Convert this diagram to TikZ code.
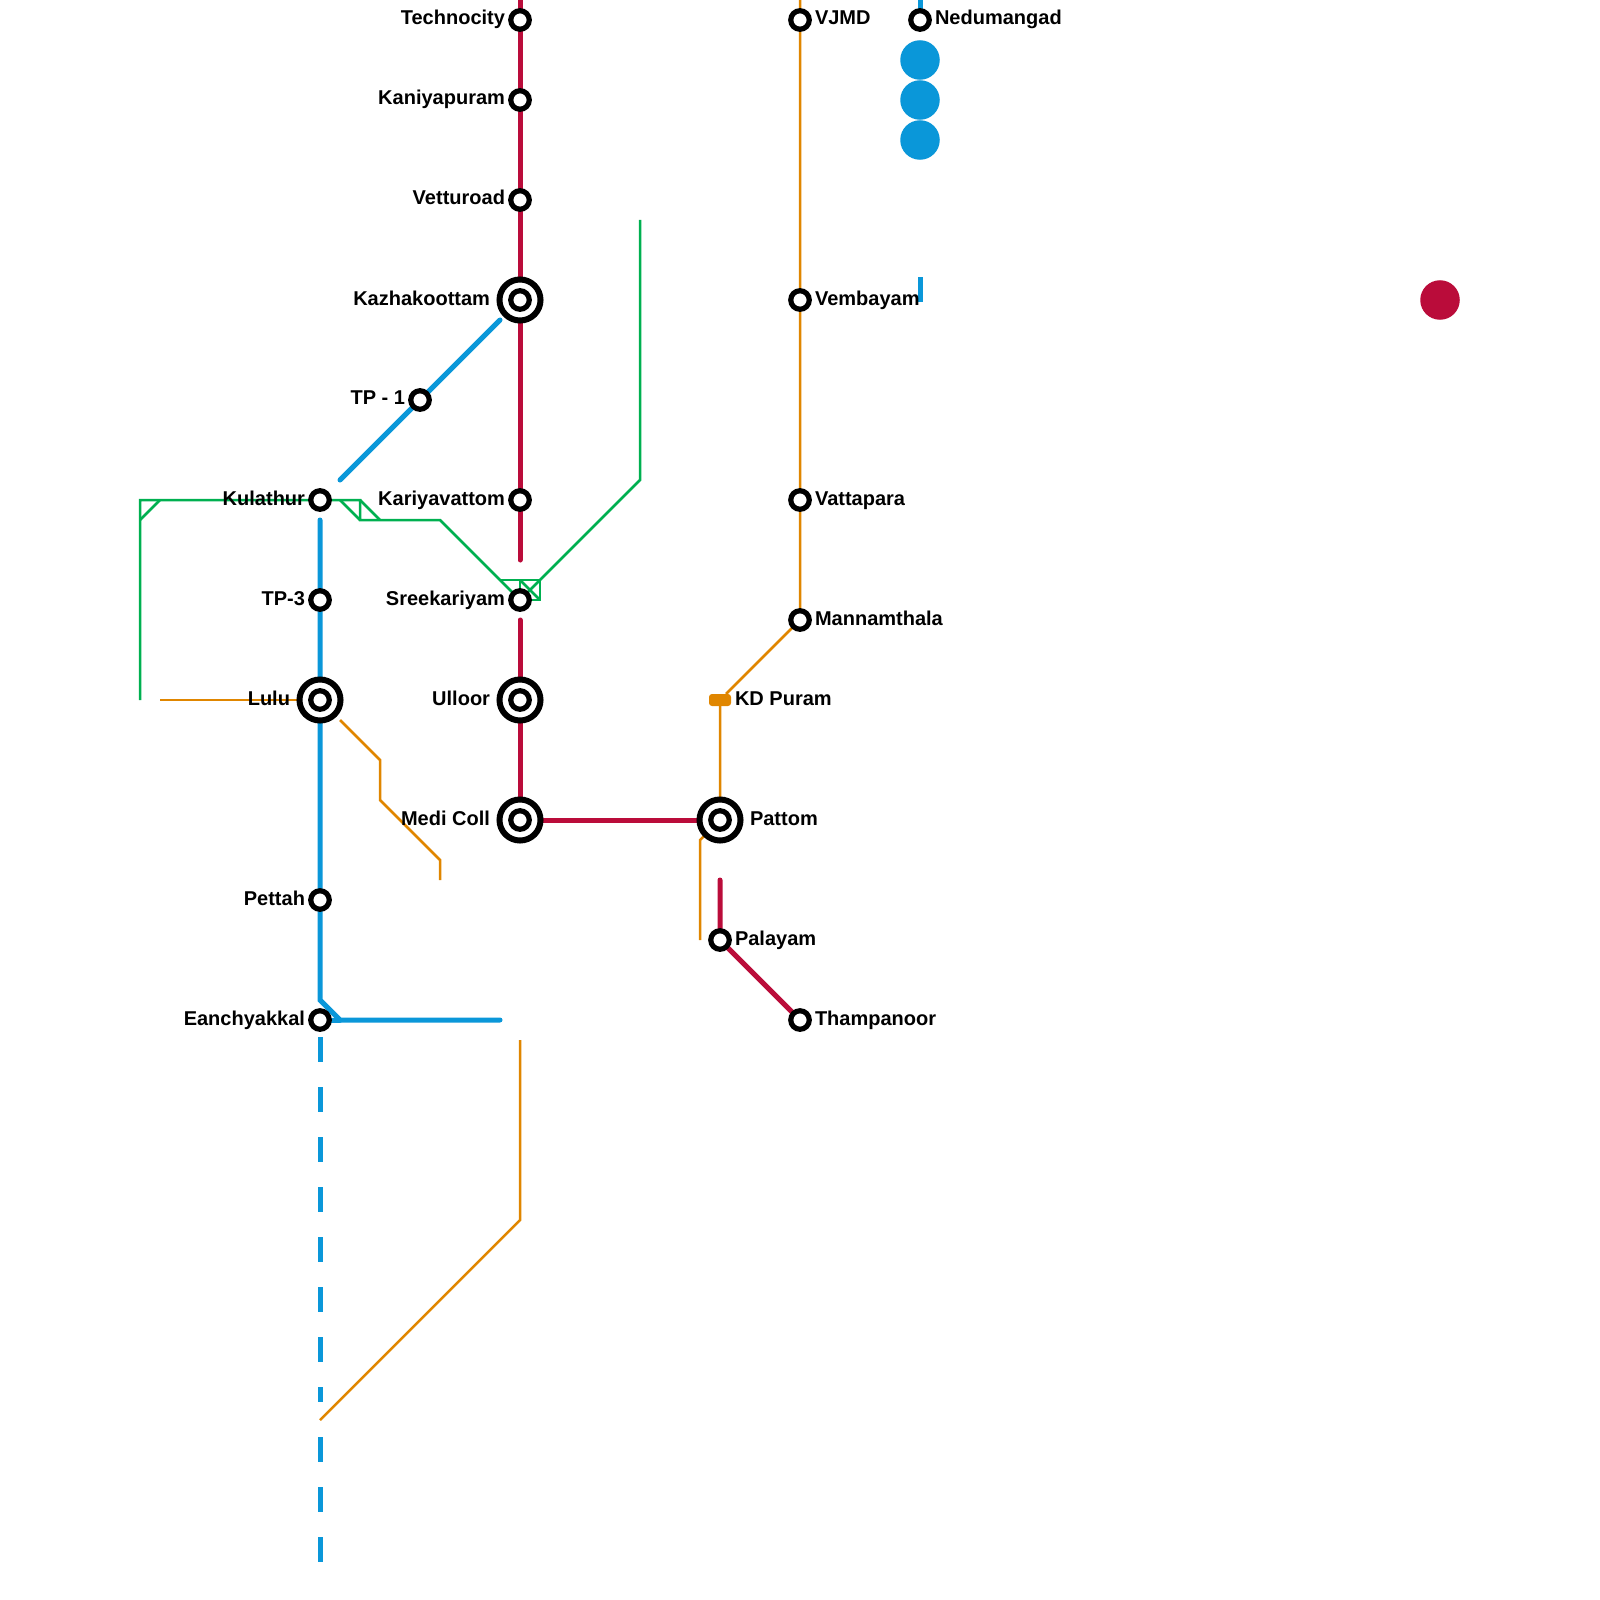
\documentclass[tikz,border=0pt]{standalone}
\usepackage{fontspec}
\setmainfont{Liberation Sans}
\usepackage{xcolor}
\usetikzlibrary{backgrounds}
\definecolor{linered}{HTML}{BA0C3A}
\definecolor{lineblue}{HTML}{0A97D9}
\definecolor{lineorange}{HTML}{E08600}
\definecolor{linegreen}{HTML}{00B050}
\begin{document}
\begin{tikzpicture}[
  x=0.01cm, y=-0.01cm,
  every node/.style={inner sep=0pt, outer sep=0pt},
  stn/.style={circle, draw=black, fill=white, line width=0.052cm, minimum size=0.185cm},
  hub/.style={circle, draw=black, fill=white, line width=0.06cm, minimum size=0.41cm},
  lbl/.style={font=\fontsize{5.69pt}{6pt}\selectfont\bfseries, text=black},
  lbll/.style={lbl, anchor=base east},
  lblr/.style={lbl, anchor=base west},
  blob/.style={circle, minimum size=0.395cm},
  redln/.style={draw=linered, line width=0.05cm, line cap=round},
  blueln/.style={draw=lineblue, line width=0.05cm, line cap=round},
  dashln/.style={draw=lineblue, line width=0.05cm, dash pattern=on 0.25cm off 0.25cm},
  orangeln/.style={draw=lineorange, line width=0.025cm},
  greenln/.style={draw=linegreen, line width=0.025cm}
]
  \useasboundingbox (0,0) rectangle (1600,1600);

  \node[stn] (technocity) at (520,20)  {};
  \node[stn] (kaniyapuram) at (520,100) {};
  \node[stn] (vetturoad) at (520,200) {};
  \node[hub] (kazhakoottam) at (520,300) {};
  \node[stn] (kazhakoottamin) at (520,300) {};
  \node[stn] (kariyavattom) at (520,500) {};
  \node[stn] (sreekariyam) at (520,600) {};
  \node[hub] (ulloor) at (520,700) {};
  \node[stn] (ulloorin) at (520,700) {};
  \node[hub] (medicoll) at (520,820) {};
  \node[stn] (medicollin) at (520,820) {};
  \node[hub] (pattom) at (720,820) {};
  \node[stn] (pattomin) at (720,820) {};
  \node[stn] (palayam) at (720,940) {};
  \node[stn] (thampanoor) at (800,1020) {};
  \node[stn] (tpone) at (420,400) {};
  \node[stn] (kulathur) at (320,500) {};
  \node[stn] (tpthree) at (320,600) {};
  \node[hub] (lulu) at (320,700) {};
  \node[stn] (luluin) at (320,700) {};
  \node[stn] (pettah) at (320,900) {};
  \node[stn] (eanchyakkal) at (320,1020) {};
  \node[stn] (vjmd) at (800,20) {};
  \node[stn] (vembayam) at (800,300) {};
  \node[stn] (vattapara) at (800,500) {};
  \node[stn] (mannamthala) at (800,620) {};
  \node[stn] (nedumangad) at (920,20) {};
  \node[draw=none, fill=lineorange, rounded corners=0.03cm, minimum width=0.22cm, minimum height=0.12cm] (kdpuram) at (720,700) {};

  \node[lbll] (ltechnocity) at (505,25) {Technocity};
  \node[lbll] (lkaniyapuram) at (505,105) {Kaniyapuram};
  \node[lbll] (lvetturoad) at (505,205) {Vetturoad};
  \node[lbll] (lkazhakoottam) at (490,305) {Kazhakoottam};
  \node[lbll] (lkariyavattom) at (505,505) {Kariyavattom};
  \node[lbll] (lsreekariyam) at (505,605) {Sreekariyam};
  \node[lbll] (lulloor) at (490,705) {Ulloor};
  \node[lbll] (lmedicoll) at (490,825) {Medi Coll};
  \node[lbll] (ltpone) at (405,404) {TP - 1};
  \node[lbll] (lkulathur) at (305,505) {Kulathur};
  \node[lbll] (ltpthree) at (305,605) {TP-3};
  \node[lbll] (llulu) at (290,705) {Lulu};
  \node[lbll] (lpettah) at (305,905) {Pettah};
  \node[lbll] (leanchyakkal) at (305,1025) {Eanchyakkal};
  \node[lblr] (lvjmd) at (815,25) {VJMD};
  \node[lblr] (lnedumangad) at (935,25) {Nedumangad};
  \node[lblr] (lvembayam) at (815,305) {Vembayam};
  \node[lblr] (lvattapara) at (815,505) {Vattapara};
  \node[lblr] (lmannamthala) at (815,625) {Mannamthala};
  \node[lblr] (lkdpuram) at (735,705) {KD Puram};
  \node[lblr] (lpattom) at (750,825) {Pattom};
  \node[lblr] (lpalayam) at (735,945) {Palayam};
  \node[lblr] (lthampanoor) at (815,1025) {Thampanoor};

  \node[blob, fill=lineblue] (blobone) at (920,60) {};
  \node[blob, fill=lineblue] (blobtwo) at (920,100) {};
  \node[blob, fill=lineblue] (blobthree) at (920,140) {};
  \node[blob, fill=linered] (blobred) at (1440,300) {};

  \coordinate (redtop) at (520,0);
  \coordinate (redgapa) at (520,560);
  \coordinate (redgapb) at (520,620);
  \coordinate (redpal) at (720,880);
  \coordinate (bluea) at (500,320);
  \coordinate (blueb) at (340,480);
  \coordinate (bluec) at (320,520);
  \coordinate (blued) at (500,1020);
  \coordinate (bluetop) at (920,0);
  \coordinate (bluestuba) at (920,277);
  \coordinate (bluestubb) at (920,302);
  \coordinate (dasha) at (320,1037);
  \coordinate (dashb) at (320,1402);
  \coordinate (dashc) at (320,1437);
  \coordinate (dashd) at (320,1562);
  \coordinate (orangetop) at (800,0);
  \coordinate (orangea) at (160,700);
  \coordinate (orangeb) at (440,880);
  \coordinate (orangec) at (520,1040);
  \coordinate (oranged) at (320,1420);
  \coordinate (orangee) at (700,940);
  \coordinate (orangef) at (340,720);
  \coordinate (greena) at (140,700);
  \coordinate (greenb) at (640,220);

  \begin{scope}[on background layer]
    \draw[redln] (redtop) -- (technocity) -- (kaniyapuram) -- (vetturoad) -- (kazhakoottam) -- (kariyavattom) -- (redgapa);
    \draw[redln] (redgapb) -- (ulloor) -- (medicoll) -- (pattom);
    \draw[redln] (redpal) -- (palayam) -- (thampanoor);

    \draw[blueln] (bluea) -- (tpone) -- (blueb);
    \draw[blueln] (bluec) -- (tpthree) -- (lulu) -- (pettah) -- (320,1000) -- (340,1020) -- (blued);
    \draw[blueln] (eanchyakkal) -- (340,1020);
    \draw[draw=lineblue, line width=0.05cm] (bluetop) -- (nedumangad);
    \draw[draw=lineblue, line width=0.05cm] (bluestuba) -- (bluestubb);
    \draw[dashln] (dasha) -- (dashb);
    \draw[dashln] (dashc) -- (dashd);

    \draw[orangeln] (orangetop) -- (vjmd) -- (vembayam) -- (vattapara) -- (mannamthala) -- (kdpuram) -- (pattom);
    \draw[orangeln] (orangea) -- (lulu);
    \draw[orangeln] (orangef) -- (380,760) -- (380,800) -- (440,860) -- (orangeb);
    \draw[orangeln] (orangec) -- (520,1220) -- (oranged);
    \draw[orangeln] (orangee) -- (700,840) -- (pattom);

    \draw[greenln] (greena) -- (140,500) -- (kulathur) -- (360,500) -- (360,520) -- (440,520) -- (sreekariyam);
    \draw[greenln] (140,520) -- (160,500);
    \draw[greenln] (340,500) -- (360,520);
    \draw[greenln] (360,500) -- (380,520);
    \draw[greenln] (500,580) -- (540,580) -- (540,600) -- (sreekariyam);
    \draw[greenln] (520,580) -- (sreekariyam);
    \draw[greenln] (520,580) -- (540,600);
    \draw[greenln] (sreekariyam) -- (540,580) -- (640,480) -- (greenb);
  \end{scope}
\end{tikzpicture}
\end{document}
